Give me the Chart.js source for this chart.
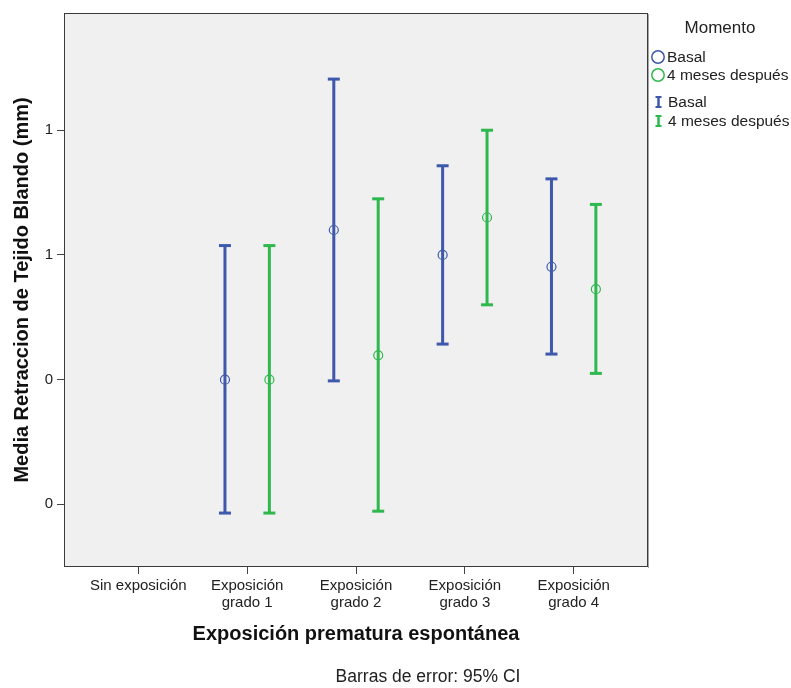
<!DOCTYPE html>
<html>
<head>
<meta charset="utf-8">
<script src="https://cdn.jsdelivr.net/npm/chart.js@4/dist/chart.umd.min.js"></script>
<style>
  html, body { margin: 0; padding: 0; background: #fff; }
  #wrap { width: 791px; height: 688px; }
</style>
</head>
<body>
<div id="wrap"><canvas id="myCanvas" width="791" height="688"></canvas></div>
<script>
// categories on the x axis
const categories = [
    "Sin exposición",
    ["Exposición", "grado 1"],
    ["Exposición", "grado 2"],
    ["Exposición", "grado 3"],
    ["Exposición", "grado 4"]
];

// Basal: mean and 95% CI
const basalMean  = [null, 0.400, 0.640, 0.600, 0.581];
const basalLower = [null, 0.186, 0.398, 0.457, 0.441];
const basalUpper = [null, 0.615, 0.882, 0.743, 0.722];

// 4 meses después: mean and 95% CI
const laterMean  = [null, 0.400, 0.439, 0.660, 0.545];
const laterLower = [null, 0.186, 0.189, 0.520, 0.410];
const laterUpper = [null, 0.615, 0.690, 0.800, 0.681];

// y tick values (SPSS shows them rounded to whole numbers)
const yTicks = [0.2, 0.4, 0.6, 0.8];

const seriesNames = ["Basal", "4 meses después"];
const blue = "#3e58ac";
const green = "#2eb84e";
const fontFamily = "'Liberation Sans', Arial, sans-serif";
const shift = 0.204; // cluster offset of each series

function meanPoints(means, off) {
    let pts = [];
    means.forEach((m, i) => {
        if (m !== null) pts.push({ x: i + off, y: m });
    });
    return pts;
}

function barPoints(means, lower, upper, off) {
    let pts = [];
    means.forEach((m, i) => {
        if (m === null) return;
        pts.push({ x: i + off, y: lower[i] });
        pts.push({ x: i + off, y: upper[i] });
        pts.push({ x: i + off, y: null });
    });
    return pts;
}

const framePlugin = {
    id: "frame",
    beforeDatasetsDraw(chart) {
        const { ctx, chartArea: a } = chart;
        ctx.save();
        ctx.fillStyle = "#f0f0f0";
        ctx.fillRect(a.left, a.top, a.right - a.left, a.bottom - a.top);
        ctx.restore();
    },
    afterDraw(chart) {
        const { ctx, chartArea: a } = chart;
        ctx.save();
        ctx.strokeStyle = "#3a3a3a";
        ctx.lineWidth = 1;
        ctx.strokeRect(a.left + 0.5, a.top + 0.5, a.right - a.left - 1, a.bottom - a.top - 1);
        ctx.strokeStyle = "rgba(0,0,0,0.35)";
        ctx.beginPath();
        ctx.moveTo(a.right + 0.5, a.top + 1); ctx.lineTo(a.right + 0.5, a.bottom + 1);
        ctx.stroke();

        // legend
        ctx.fillStyle = "#222";
        ctx.textBaseline = "middle";
        ctx.font = "17px " + fontFamily;
        ctx.textAlign = "center";
        ctx.fillText("Momento", 720, 28);
        ctx.textAlign = "left";
        ctx.font = "15.5px " + fontFamily;
        const cols = [blue, green];
        [57, 75].forEach((y, k) => {
            ctx.beginPath();
            ctx.strokeStyle = cols[k];
            ctx.lineWidth = 1.5;
            ctx.arc(658, y, 6.2, 0, Math.PI * 2);
            ctx.stroke();
            ctx.fillText(seriesNames[k], 667, y + 1);
        });
        [102, 121].forEach((y, k) => {
            ctx.strokeStyle = cols[k];
            ctx.lineWidth = 2.5;
            ctx.beginPath();
            ctx.moveTo(658.5, y - 5); ctx.lineTo(658.5, y + 5);
            ctx.stroke();
            ctx.lineWidth = 2;
            ctx.beginPath();
            ctx.moveTo(655.5, y - 5); ctx.lineTo(661.5, y - 5);
            ctx.moveTo(655.5, y + 5); ctx.lineTo(661.5, y + 5);
            ctx.stroke();
            ctx.fillText(seriesNames[k], 668, y + 1);
        });

        // footnote
        ctx.font = "17.5px " + fontFamily;
        ctx.textAlign = "center";
        ctx.fillText("Barras de error: 95% CI", 428, 677);
        ctx.restore();
    }
};

const myCanvas = document.getElementById("myCanvas");

const gChart = new Chart(myCanvas, {
    type: "scatter",
    data: {
        datasets: [
            {
                label: "Basal CI",
                data: barPoints(basalMean, basalLower, basalUpper, -shift),
                showLine: true,
                spanGaps: false,
                borderColor: blue,
                borderWidth: 3,
                pointStyle: "line",
                pointRadius: 6,
                pointBorderWidth: 3,
                pointBorderColor: blue
            },
            {
                label: "4 meses CI",
                data: barPoints(laterMean, laterLower, laterUpper, shift),
                showLine: true,
                spanGaps: false,
                borderColor: green,
                borderWidth: 3,
                pointStyle: "line",
                pointRadius: 6,
                pointBorderWidth: 3,
                pointBorderColor: green
            },
            {
                label: "Basal",
                data: meanPoints(basalMean, -shift),
                pointStyle: "circle",
                pointRadius: 4.5,
                pointBorderWidth: 1.2,
                borderColor: blue,
                backgroundColor: "rgba(0,0,0,0)"
            },
            {
                label: "4 meses después",
                data: meanPoints(laterMean, shift),
                pointStyle: "circle",
                pointRadius: 4.5,
                pointBorderWidth: 1.2,
                borderColor: green,
                backgroundColor: "rgba(0,0,0,0)"
            }
        ]
    },
    options: {
        responsive: false,
        animation: false,
        devicePixelRatio: 1,
        layout: { padding: { top: 10, right: 143, left: 0, bottom: 0 } },
        plugins: {
            legend: { display: false },
            tooltip: { enabled: false }
        },
        scales: {
            x: {
                type: "linear",
                min: -0.683,
                max: 4.683,
                afterBuildTicks: (scale) => {
                    scale.ticks = categories.map((c, i) => ({ value: i }));
                },
                afterFit: (scale) => { scale.height = 121; },
                ticks: {
                    callback: (v) => categories[v],
                    font: { family: fontFamily, size: 15, lineHeight: 1.15 },
                    color: "#222",
                    padding: 3,
                    maxRotation: 0,
                    autoSkip: false
                },
                grid: { drawOnChartArea: false, tickLength: 7, color: "#444" },
                border: { display: false },
                title: {
                    display: true,
                    text: "Exposición prematura espontánea",
                    font: { family: fontFamily, size: 20, weight: "bold" },
                    color: "#111",
                    padding: { top: 4, bottom: 42 }
                }
            },
            y: {
                min: 0.0995,
                max: 0.988,
                afterBuildTicks: (scale) => {
                    scale.ticks = yTicks.map(v => ({ value: v }));
                },
                afterFit: (scale) => { scale.width = 64; },
                ticks: {
                    callback: (v) => String(Math.round(v)),
                    font: { family: fontFamily, size: 15 },
                    color: "#222",
                    padding: 4
                },
                grid: { drawOnChartArea: false, tickLength: 7, color: "#444" },
                border: { display: false },
                title: {
                    display: true,
                    text: "Media Retraccion de Tejido Blando (mm)",
                    font: { family: fontFamily, size: 20, weight: "bold" },
                    color: "#111",
                    padding: { top: 10, bottom: 0 }
                }
            }
        }
    },
    plugins: [framePlugin]
});
</script>
</body>
</html>
